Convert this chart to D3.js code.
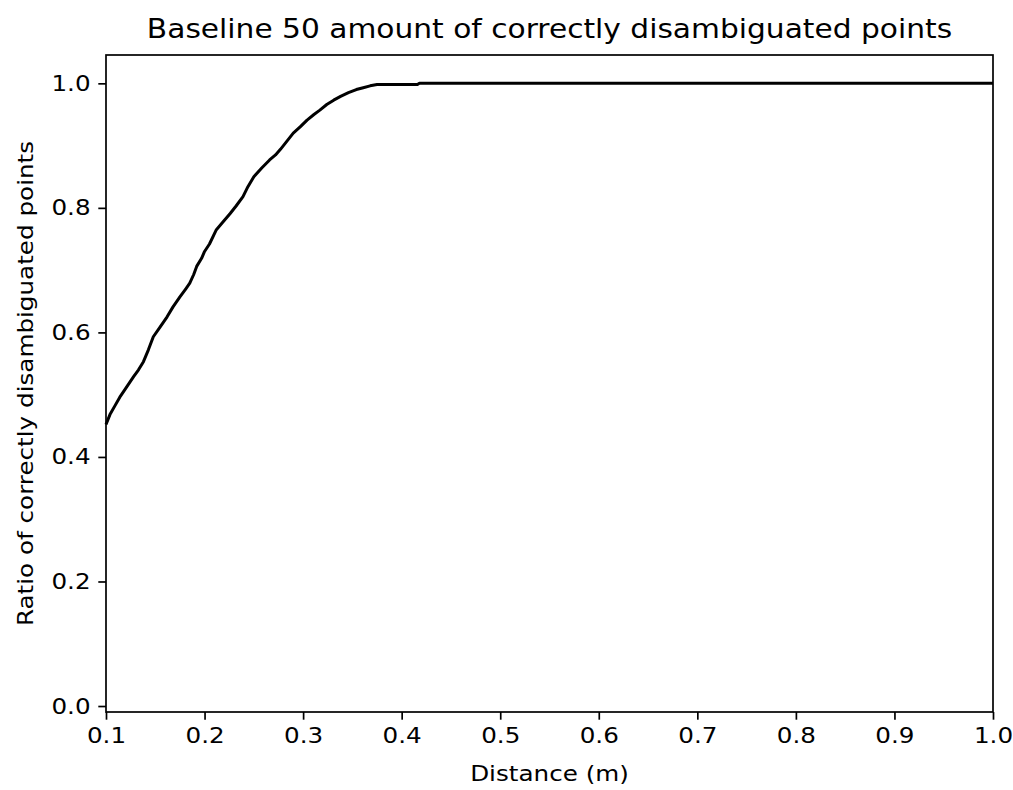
<!DOCTYPE html>
<html>
<head>
<meta charset="utf-8">
<script src="https://cdn.jsdelivr.net/npm/d3@7"></script>
<style>
  body { margin: 0; background: #fff; }
  text { font-family: "DejaVu Sans", sans-serif; fill: #000; }
</style>
</head>
<body>
<div id="chart"></div>
<script>
// distance (m) vs ratio of correctly disambiguated points
var distance = [0.100, 0.104, 0.109, 0.114, 0.120, 0.128, 0.133, 0.138, 0.143, 0.148,
  0.155, 0.162, 0.168, 0.175, 0.181, 0.185, 0.189, 0.192, 0.197, 0.200, 0.205,
  0.212, 0.218, 0.226, 0.232, 0.239, 0.244, 0.250, 0.258, 0.266, 0.272, 0.277,
  0.284, 0.290, 0.297, 0.304, 0.311, 0.317, 0.324, 0.331, 0.338, 0.346, 0.354,
  0.361, 0.368, 0.375, 0.390, 0.405, 0.416, 0.418, 0.500, 0.700, 1.000];
var ratio = [0.452, 0.468, 0.482, 0.496, 0.510, 0.529, 0.540, 0.553, 0.572, 0.593,
  0.609, 0.625, 0.641, 0.657, 0.670, 0.679, 0.693, 0.706, 0.719, 0.730, 0.742,
  0.765, 0.776, 0.791, 0.803, 0.818, 0.834, 0.850, 0.864, 0.877, 0.885, 0.894,
  0.908, 0.920, 0.930, 0.941, 0.950, 0.957, 0.966, 0.973, 0.979, 0.985, 0.990,
  0.993, 0.996, 0.998, 0.998, 0.998, 0.998, 1.000, 1.000, 1.000, 1.000];

var xTicks = [0.1, 0.2, 0.3, 0.4, 0.5, 0.6, 0.7, 0.8, 0.9, 1.0];
var yTicks = [0.0, 0.2, 0.4, 0.6, 0.8, 1.0];

var width = 1013,
  height = 790;
var margin = {top: 55, right: 20, bottom: 78, left: 106};
var sx = 1.12; // the reference glyphs are a bit wider than tall

var svg = d3.select("#chart")
  .append("svg")
  .attr("width", width)
  .attr("height", height);

var x = d3.scaleLinear()
  .domain([0.1, 1.0])
  .range([margin.left, 993]);

var y = d3.scaleLinear()
  .domain([-0.0096, 1.0455])
  .range([712, margin.top]);

var data = distance.map(function (d, i) {
  return {x: d, y: ratio[i]};
});

// curve
svg.append("path")
  .datum(data)
  .attr("fill", "none")
  .attr("stroke", "#000")
  .attr("stroke-width", 3)
  .attr("stroke-linejoin", "round")
  .attr("d", d3.line()
    .x(function (d) { return x(d.x); })
    .y(function (d) { return y(d.y); }));

// axes
var xAxis = svg.append("g")
  .attr("transform", "translate(0,712)")
  .call(d3.axisBottom(x).tickValues(xTicks).tickFormat(d3.format(".1f"))
    .tickSize(7.7).tickPadding(7.7));

var yAxis = svg.append("g")
  .attr("transform", "translate(" + margin.left + ",0)")
  .call(d3.axisLeft(y).tickValues(yTicks).tickFormat(d3.format(".1f"))
    .tickSize(7.7).tickPadding(7.7));

[xAxis, yAxis].forEach(function (g) {
  g.select(".domain").remove();
  g.selectAll(".tick line").attr("stroke", "#000").attr("stroke-width", 1.7);
  g.selectAll(".tick text")
    .style("font-size", "22px")
    .style("font-family", "DejaVu Sans, sans-serif")
    .attr("fill", "#000");
});
xAxis.selectAll(".tick text").attr("transform", "scale(" + sx + ",1)");
yAxis.selectAll(".tick text")
  .attr("x", -15.4 / sx)
  .attr("transform", "scale(" + sx + ",1)");

// frame
svg.append("rect")
  .attr("x", margin.left)
  .attr("y", margin.top)
  .attr("width", 993 - margin.left)
  .attr("height", 712 - margin.top)
  .attr("fill", "none")
  .attr("stroke", "#000")
  .attr("stroke-width", 1.7);

// title
svg.append("text")
  .attr("transform", "translate(" + (margin.left + 993) / 2 + ",37.5) scale(" + sx + ",1)")
  .attr("text-anchor", "middle")
  .style("font-size", "26.5px")
  .text("Baseline 50 amount of correctly disambiguated points");

// x label
svg.append("text")
  .attr("transform", "translate(" + (margin.left + 993) / 2 + ",781) scale(" + sx + ",1)")
  .attr("text-anchor", "middle")
  .style("font-size", "22px")
  .text("Distance (m)");

// y label
svg.append("text")
  .attr("transform", "translate(33," + (margin.top + 712) / 2 + ") rotate(-90) scale(" + sx + ",1)")
  .attr("text-anchor", "middle")
  .style("font-size", "22px")
  .text("Ratio of correctly disambiguated points");
</script>
</body>
</html>
